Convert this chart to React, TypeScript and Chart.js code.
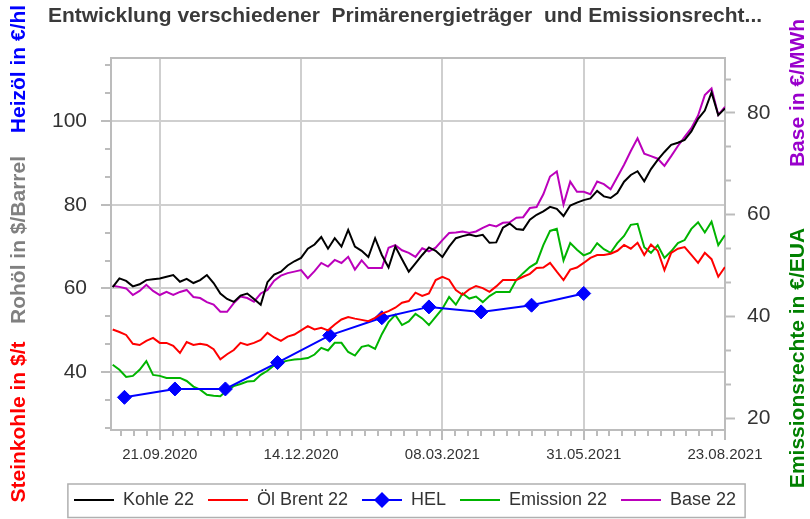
import React, { useEffect, useRef } from 'react';
import { Chart, registerables } from 'chart.js';

Chart.register(...registerables);

// ---------- data ----------
const chartTitle = 'Entwicklung verschiedener  Primärenergieträger  und Emissionsrecht...';
const seriesNames = ['Kohle 22', 'Öl Brent 22', 'HEL', 'Emission 22', 'Base 22'];
const leftAxisTitles = ['Steinkohle in $/t', 'Rohöl in $/Barrel', 'Heizöl in €/hl'];
const rightAxisTitles = ['Emissionsrechte in €/EUA', 'Base in €/MWh'];

const xRange = ['2020-08-23', '2021-08-23'];
const majorTickDates = ['2020-09-21', '2020-12-14', '2021-03-08', '2021-05-31', '2021-08-23'];
const leftRange = [26.2, 115.04];
const rightRange = [17.66, 90.8];
const leftTickLabels = [40, 60, 80, 100];
const rightTickLabels = [20, 40, 60, 80];

const sampleDates = [
  '2020-08-24', '2020-08-28', '2020-09-01', '2020-09-05', '2020-09-09', '2020-09-13', '2020-09-17', '2020-09-21',
  '2020-09-25', '2020-09-29', '2020-10-03', '2020-10-07', '2020-10-11', '2020-10-15', '2020-10-19', '2020-10-23',
  '2020-10-27', '2020-10-31', '2020-11-04', '2020-11-08', '2020-11-12', '2020-11-16', '2020-11-20', '2020-11-24',
  '2020-11-28', '2020-12-02', '2020-12-06', '2020-12-10', '2020-12-14', '2020-12-18', '2020-12-22', '2020-12-26',
  '2020-12-30', '2021-01-03', '2021-01-07', '2021-01-11', '2021-01-15', '2021-01-19', '2021-01-23', '2021-01-27',
  '2021-01-31', '2021-02-04', '2021-02-08', '2021-02-12', '2021-02-16', '2021-02-20', '2021-02-24', '2021-02-28',
  '2021-03-04', '2021-03-08', '2021-03-12', '2021-03-16', '2021-03-20', '2021-03-24', '2021-03-28', '2021-04-01',
  '2021-04-05', '2021-04-09', '2021-04-13', '2021-04-17', '2021-04-21', '2021-04-25', '2021-04-29', '2021-05-03',
  '2021-05-07', '2021-05-11', '2021-05-15', '2021-05-19', '2021-05-23', '2021-05-27', '2021-05-31', '2021-06-04',
  '2021-06-08', '2021-06-12', '2021-06-16', '2021-06-20', '2021-06-24', '2021-06-28', '2021-07-02', '2021-07-06',
  '2021-07-10', '2021-07-14', '2021-07-18', '2021-07-22', '2021-07-26', '2021-07-30', '2021-08-03', '2021-08-07',
  '2021-08-11', '2021-08-15', '2021-08-19', '2021-08-23',
];

const kohle22 = [
  60.3, 62.4, 61.8, 60.5, 61.0, 62.0, 62.2, 62.4, 62.8, 63.2, 61.6,
  62.3, 61.3, 62.0, 63.2, 61.3, 58.8, 57.5, 56.8, 58.3, 58.8,
  57.5, 56.1, 61.5, 63.3, 64.0, 65.5, 66.5, 67.3, 69.5, 70.5,
  72.3, 69.5, 72.0, 70.0, 74.0, 70.0, 69.0, 67.5, 72.0, 68.0,
  65.0, 70.0, 67.0, 64.0, 66.0, 68.0, 69.8, 69.0, 67.5, 70.0,
  72.0, 72.5, 72.9, 72.5, 72.8, 70.9, 71.0, 74.5, 75.5, 74.2,
  74.0, 76.4, 77.6, 78.4, 79.5, 79.0, 77.3, 79.8, 80.5, 81.1,
  81.5, 83.3, 82.0, 81.6, 82.8, 85.5, 87.1, 88.0, 85.6, 88.5,
  90.7, 92.6, 94.3, 94.8, 95.5, 97.5, 100.5, 102.5, 106.8, 101.4, 103.0,
];

const oelBrent22 = [
  50.2, 49.6, 48.9, 46.8, 46.5, 47.5, 48.2, 47.0, 47.0, 46.3, 44.6,
  47.2, 46.5, 46.8, 46.5, 45.5, 43.1, 44.3, 45.3, 47.0, 46.5,
  47.0, 47.7, 49.4, 48.3, 47.5, 48.5, 49.0, 50.0, 51.0, 50.2,
  50.6, 50.0, 51.4, 52.6, 53.2, 52.8, 52.5, 52.2, 53.0, 54.0,
  54.6, 55.4, 56.6, 57.0, 59.0, 58.2, 58.8, 62.0, 62.8, 62.1,
  59.6, 58.5, 59.8, 60.6, 60.1, 59.2, 60.5, 62.0, 62.0, 62.0,
  62.8, 63.5, 64.9, 65.0, 66.1, 64.0, 62.0, 64.5, 65.0, 66.1,
  67.3, 68.0, 68.0, 68.3, 69.0, 70.4, 69.5, 70.9, 68.0, 70.5,
  69.0, 64.4, 68.5, 69.5, 69.9, 68.0, 66.1, 68.5, 67.0, 62.8, 65.1,
];

const emission22 = [
  30.5, 29.5, 28.1, 28.3, 29.5, 31.2, 28.5, 28.3, 27.9, 27.9, 27.9,
  27.3, 26.2, 25.6, 24.6, 24.4, 24.3, 25.5, 26.3, 26.7, 27.2,
  27.3, 28.5, 29.3, 30.4, 31.0, 31.3, 31.5, 31.6, 31.8, 32.5,
  33.8, 33.3, 34.8, 34.8, 33.0, 32.3, 34.0, 34.3, 33.6, 36.5,
  38.9, 40.3, 38.3, 39.0, 40.5, 39.6, 38.3, 39.9, 41.5, 43.8,
  42.3, 44.5, 43.5, 43.9, 42.8, 44.0, 44.8, 44.8, 44.8, 47.2,
  48.5, 49.7, 50.5, 54.0, 56.8, 57.2, 51.0, 54.4, 53.1, 52.0,
  52.5, 54.4, 53.2, 52.5, 54.4, 55.8, 58.0, 58.2, 53.6, 52.5,
  54.0, 51.5, 52.8, 54.4, 55.0, 57.2, 58.5, 56.5, 58.6, 54.0, 56.0,
];

const base22 = [
  46.0, 45.8, 45.5, 44.2, 45.0, 46.2, 45.0, 44.2, 44.8, 44.2, 44.8,
  45.2, 43.8, 43.6, 42.8, 42.3, 40.9, 40.9, 42.6, 43.9, 43.6,
  42.9, 44.5, 45.2, 47.0, 48.0, 48.5, 48.8, 49.1, 47.5, 48.9,
  50.5, 49.8, 51.1, 50.5, 51.7, 49.2, 51.0, 49.5, 49.5, 49.5,
  53.5, 54.0, 53.0, 52.5, 51.7, 53.4, 52.8, 53.5, 55.0, 56.4,
  56.5, 56.7, 56.4, 56.7, 57.4, 58.0, 57.7, 58.4, 58.5, 59.4,
  59.5, 61.3, 61.5, 64.0, 67.5, 68.5, 62.0, 66.5, 64.5, 64.5,
  64.0, 66.5, 66.0, 65.0, 67.4, 69.8, 72.5, 75.0, 72.0, 71.5,
  71.0, 69.6, 71.5, 73.5, 75.3, 77.0, 79.5, 83.5, 84.8, 79.6, 81.2,
];

const helDates = [
  '2020-08-31', '2020-09-30', '2020-10-30', '2020-11-30', '2020-12-31',
  '2021-01-31', '2021-02-28', '2021-03-31', '2021-04-30', '2021-05-31',
];
const hel = [34.0, 36.0, 36.0, 42.3, 48.8, 53.0, 55.6, 54.4, 56.0, 58.8];

// ---------- styles ----------
const FONT = '"Liberation Sans", Arial, sans-serif';
const seriesColors = ['#000000', '#ff0000', '#0000ff', '#00b400', '#bb00bb'];
const leftTitleColors = ['#ff0000', '#808080', '#0000ff'];
const rightTitleColors = ['#008000', '#9900cc'];
const leftTitleCenters = [422, 240, 69];
const rightTitleCenters = [358, 93];
const gridColor = '#cfcfcf';
const frameColor = '#bcbcbc';
const textColor = '#333333';

const dayNum = (iso: string) => {
  const [y, m, d] = iso.split('-').map(Number);
  return Date.UTC(y, m - 1, d) / 86400000;
};
const fmtDay = (v: number) => {
  const dt = new Date(Math.round(v) * 86400000);
  const dd = String(dt.getUTCDate()).padStart(2, '0');
  const mm = String(dt.getUTCMonth() + 1).padStart(2, '0');
  return `${dd}.${mm}.${dt.getUTCFullYear()}`;
};

function makeIcon(color: string, diamond: boolean) {
  const c = document.createElement('canvas');
  c.width = 40;
  c.height = 18;
  const g = c.getContext('2d')!;
  g.strokeStyle = color;
  g.lineWidth = 2;
  g.beginPath();
  g.moveTo(0, 9);
  g.lineTo(40, 9);
  g.stroke();
  if (diamond) {
    g.fillStyle = color;
    g.beginPath();
    g.moveTo(20, 1);
    g.lineTo(28, 9);
    g.lineTo(20, 17);
    g.lineTo(12, 9);
    g.closePath();
    g.fill();
  }
  return c;
}

export default function App() {
  const ref = useRef<HTMLCanvasElement | null>(null);

  useEffect(() => {
    if (!ref.current) return;
    const xs = sampleDates.map(dayNum);
    const toPts = (vals: number[]) => vals.map((v, i) => ({ x: xs[i], y: v }));
    const helPts = hel.map((v, i) => ({ x: dayNum(helDates[i]), y: v }));
    const majorsX = majorTickDates.map(dayNum);
    const isMajorX = (v: number) => majorsX.some((m) => Math.abs(m - v) < 0.01);
    const isLabelY = (v: number, list: number[]) => list.some((m) => Math.abs(m - v) < 0.01);
    const icons = seriesColors.map((c, i) => makeIcon(c, i === 2));

    const minorTicks = (min: number, max: number, anchor: number, step: number) => {
      const out: { value: number }[] = [];
      let v = anchor - step * Math.floor((anchor - min) / step + 1e-9);
      for (; v <= max + 1e-6; v += step) out.push({ value: v });
      return out;
    };

    const decor = {
      id: 'decor',
      afterDraw(chart: any) {
        const { ctx, chartArea: a } = chart;
        ctx.save();
        ctx.strokeStyle = frameColor;
        ctx.lineWidth = 2;
        ctx.beginPath();
        ctx.moveTo(a.left - 1, a.top);
        ctx.lineTo(a.right + 1, a.top);
        ctx.stroke();

        const hb = chart.legend?.legendHitBoxes || [];
        if (hb.length) {
          const l = Math.min(...hb.map((b: any) => b.left)) - 6;
          const r = Math.max(...hb.map((b: any) => b.left + b.width)) + 9;
          const t = hb[0].top - 7;
          ctx.strokeStyle = '#b0b0b0';
          ctx.lineWidth = 1.5;
          ctx.strokeRect(l, t, r - l, chart.height - 1.5 - t);
        }

        ctx.font = `bold 21px ${FONT}`;
        ctx.textAlign = 'center';
        ctx.textBaseline = 'middle';
        const draw = (text: string, x: number, y: number, color: string) => {
          ctx.save();
          ctx.translate(x, y);
          ctx.rotate(-Math.PI / 2);
          ctx.fillStyle = color;
          ctx.fillText(text, 0, 0);
          ctx.restore();
        };
        leftAxisTitles.forEach((t, i) => draw(t, 19, leftTitleCenters[i], leftTitleColors[i]));
        rightAxisTitles.forEach((t, i) => draw(t, 798, rightTitleCenters[i], rightTitleColors[i]));
        ctx.restore();
      },
    };

    const line = (i: number, data: any[], axis: string, extra: any = {}) => ({
      label: seriesNames[i],
      data,
      yAxisID: axis,
      borderColor: seriesColors[i],
      backgroundColor: seriesColors[i],
      borderWidth: 2,
      pointRadius: 0,
      tension: 0,
      ...extra,
    });

    const chart = new Chart(ref.current, {
      type: 'line',
      data: {
        datasets: [
          line(0, toPts(kohle22), 'y'),
          line(1, toPts(oelBrent22), 'y'),
          line(2, helPts, 'y', {
            pointRadius: 7,
            pointStyle: 'rectRot',
            pointBackgroundColor: seriesColors[2],
            pointBorderColor: seriesColors[2],
            pointBorderWidth: 1,
          }),
          line(3, toPts(emission22), 'y1'),
          line(4, toPts(base22), 'y1'),
        ],
      },
      options: {
        animation: false,
        responsive: false,
        events: [],
        layout: { padding: 0 },
        font: { family: FONT },
        plugins: {
          title: {
            display: true,
            text: chartTitle,
            color: '#3a3a3a',
            font: { size: 21, weight: 'bold', family: FONT },
            padding: { top: 4, bottom: 28.8 },
          },
          legend: {
            position: 'bottom',
            labels: {
              usePointStyle: true,
              pointStyleWidth: 40,
              padding: 14,
              color: textColor,
              font: { size: 18, family: FONT },
              generateLabels: (ch: any) => {
                const items = (Chart.defaults as any).plugins.legend.labels.generateLabels(ch);
                return items.map((it: any, i: number) => ({ ...it, pointStyle: icons[i] }));
              },
            },
          },
          tooltip: { enabled: false },
        },
        scales: {
          x: {
            type: 'linear',
            position: 'bottom',
            min: dayNum(xRange[0]),
            max: dayNum(xRange[1]),
            afterBuildTicks: (s: any) => {
              s.ticks = minorTicks(s.min, s.max, majorsX[0], (majorsX[1] - majorsX[0]) / 11);
            },
            afterFit: (s: any) => {
              s.height = 47;
            },
            ticks: {
              autoSkip: false,
              maxRotation: 0,
              padding: 6,
              color: textColor,
              font: { size: 15, family: FONT },
              callback: (v: any) => (isMajorX(Number(v)) ? fmtDay(Number(v)) : ''),
            },
            grid: {
              lineWidth: 2,
              color: (c: any) => (c.tick && isMajorX(c.tick.value) ? gridColor : 'rgba(0,0,0,0)'),
              tickColor: frameColor,
              tickLength: 10,
              tickWidth: 2,
              tickBorderDash: (c: any) => (c.tick && isMajorX(c.tick.value) ? [] : [5, 100]),
            },
            border: { color: frameColor, width: 2 },
          },
          y: {
            type: 'linear',
            position: 'left',
            min: leftRange[0],
            max: leftRange[1],
            afterBuildTicks: (s: any) => {
              s.ticks = minorTicks(s.min, s.max, leftTickLabels[0], (leftTickLabels[1] - leftTickLabels[0]) / 3);
            },
            afterFit: (s: any) => {
              s.width = 111;
            },
            ticks: {
              autoSkip: false,
              padding: 14,
              color: textColor,
              font: { size: 21, family: FONT },
              callback: (v: any) => (isLabelY(Number(v), leftTickLabels) ? String(Math.round(Number(v))) : ''),
            },
            grid: {
              lineWidth: 2,
              color: (c: any) => (c.tick && isLabelY(c.tick.value, leftTickLabels) ? gridColor : 'rgba(0,0,0,0)'),
              tickColor: frameColor,
              tickLength: 10,
              tickWidth: 2,
              tickBorderDash: (c: any) => (c.tick && isLabelY(c.tick.value, leftTickLabels) ? [] : [0, 4, 5, 100]),
            },
            border: { color: frameColor, width: 2 },
          },
          y1: {
            type: 'linear',
            position: 'right',
            min: rightRange[0],
            max: rightRange[1],
            afterBuildTicks: (s: any) => {
              s.ticks = minorTicks(s.min, s.max, rightTickLabels[0], (rightTickLabels[1] - rightTickLabels[0]) / 3);
            },
            afterFit: (s: any) => {
              s.width = 85;
            },
            ticks: {
              autoSkip: false,
              padding: 12,
              color: textColor,
              font: { size: 21, family: FONT },
              callback: (v: any) => (isLabelY(Number(v), rightTickLabels) ? String(Math.round(Number(v))) : ''),
            },
            grid: {
              drawOnChartArea: false,
              tickColor: frameColor,
              tickLength: 10,
              tickWidth: 2,
              tickBorderDash: (c: any) => (c.tick && isLabelY(c.tick.value, rightTickLabels) ? [] : [5, 100]),
            },
            border: { color: frameColor, width: 2 },
          },
        },
      } as any,
      plugins: [decor],
    });
    return () => chart.destroy();
  }, []);

  return (
    <div style={{ position: 'fixed', left: 0, top: 0, width: 810, height: 519, background: '#ffffff' }}>
      <canvas ref={ref} width={810} height={519} style={{ display: 'block', width: 810, height: 519 }} />
    </div>
  );
}
